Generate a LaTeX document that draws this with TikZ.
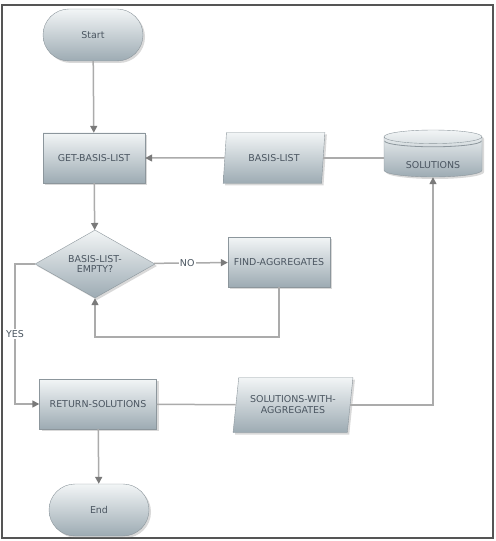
\documentclass[tikz,border=0pt]{standalone}
\usepackage{fontspec}
\setmainfont{DejaVu Sans}
\usetikzlibrary{shapes.geometric,shapes.misc,shadows,arrows.meta,calc}

\definecolor{boxtop}{HTML}{F2F5F6}
\definecolor{boxbot}{HTML}{9DABB3}
\definecolor{boxline}{HTML}{8C969C}
\definecolor{boxtext}{HTML}{4A5560}
\definecolor{wire}{HTML}{ABABAB}
\definecolor{tipgray}{HTML}{7A7A7A}
\definecolor{frame}{HTML}{555555}

\tikzset{
  flowbox/.style={draw=boxline, top color=boxtop, bottom color=boxbot, text=boxtext,
    font=\fontsize{9.5}{11}\selectfont, align=center, inner sep=0pt,
    drop shadow={opacity=0.3, shadow xshift=2bp, shadow yshift=-2bp}},
  process/.style={flowbox, rectangle, minimum width=102bp, minimum height=50bp},
  terminal/.style={flowbox, rounded rectangle, minimum width=100bp, minimum height=52bp},
  decision/.style={flowbox, diamond, aspect=1.76, minimum width=120bp, minimum height=68bp},
  data/.style={flowbox, trapezium, trapezium left angle=76, trapezium right angle=104,
    trapezium stretches=true, minimum width=102bp, minimum height=51bp},
  store/.style={flowbox, cylinder, shape border rotate=90, aspect=0.25,
    minimum width=98bp, minimum height=47bp},
  flow/.style={draw=wire, line width=1.5bp, -{Triangle[length=7bp,width=7bp,color=tipgray]}},
  link/.style={draw=wire, line width=1.5bp},
  flowlabel/.style={fill=white, text=boxtext, font=\fontsize{9.5}{11}\selectfont, inner sep=1bp},
}

\begin{document}
\begin{tikzpicture}[x=1bp, y=-1bp]
  \useasboundingbox (0,0) rectangle (496,541);
  \draw[frame, line width=1.5bp] (2,5) rectangle (493,538);

  % nodes
  \node[terminal] (start) at (93,35) {Start};
  \node[process] (getlist) at (94,158) {GET-BASIS-LIST};
  \node[data] (basislist) at (274,158) {BASIS-LIST};
  \node[store] (solutions) at (433,157) {\raisebox{-12bp}[0pt][0pt]{SOLUTIONS}};
  \node[decision] (empty) at (95,264) {BASIS-LIST-\\EMPTY?};
  \node[process] (findagg) at (279,262) {FIND-AGGREGATES};
  \node[process, minimum width=117bp] (retsol) at (98,404) {RETURN-SOLUTIONS};
  \node[data, minimum width=120bp, minimum height=55bp] (solagg) at (293,405) {SOLUTIONS-WITH-\\AGGREGATES};
  \node[terminal] (end) at (99,510) {End};
  \coordinate (yesturn) at (15,264);
  % extra rim on the store
  \coordinate (rim) at ($(solutions.before top)!0.5!(solutions.after top)$);
  \draw[boxline, line width=0.8bp] ($(rim)+(-48.5,4)$) arc[start angle=180, end angle=360, x radius=48.5bp, y radius=6bp];

  % connectors
  \draw[flow] (start) -- (getlist);
  \draw[flow] (basislist) -- (getlist);
  \draw[link] (solutions.west |- basislist.east) -- (basislist.east);
  \draw[flow] (getlist) -- (empty);
  \draw[flow] (empty) -- node[flowlabel, pos=0.45] {NO} (findagg);
  \draw[flow] (findagg.south) -- ++(0,50) -| (empty.south);
  \draw[flow] (empty.west) -- (yesturn) |- node[flowlabel, pos=0.25] {YES} (retsol.west);
  \draw[link] (retsol) -- (solagg);
  \draw[flow] (solagg.east) -| (solutions.south);
  \draw[flow] (retsol) -- (end);
\end{tikzpicture}
\end{document}
